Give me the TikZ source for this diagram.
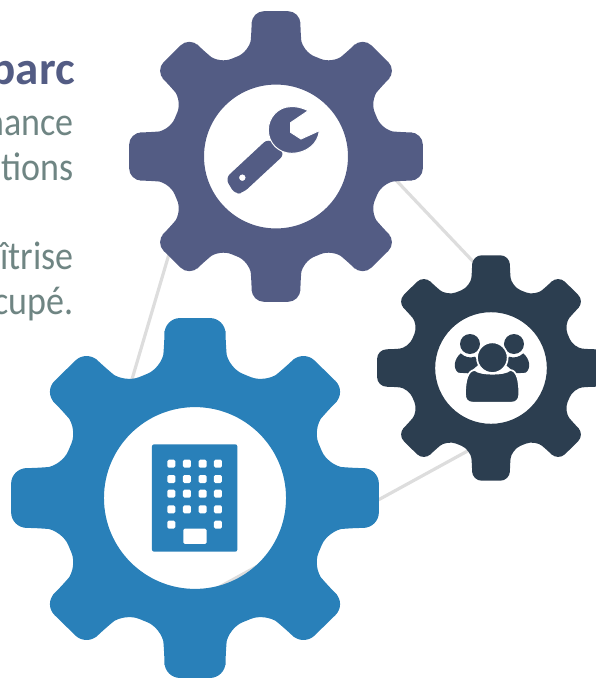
\documentclass[tikz,border=0pt]{standalone}
\usepackage{fontspec}
\setmainfont{Carlito}
\definecolor{gpurple}{HTML}{535C84}
\definecolor{gdark}{HTML}{2C3E50}
\definecolor{gblue}{HTML}{2980B9}
\definecolor{gtext}{HTML}{6F8583}
\definecolor{glink}{HTML}{DDDDDD}
% one tooth and the root after it, at angle #1, in units of 1/100 outer radius
\newcommand{\gcore}[1]{%
  -- ({84*cos(#1)+16.6*sin(#1)},{84*sin(#1)-16.6*cos(#1)})
  -- ({100*cos(#1)+16.6*sin(#1)},{100*sin(#1)-16.6*cos(#1)})
  -- ({100*cos(#1)-16.6*sin(#1)},{100*sin(#1)+16.6*cos(#1)})
  -- ({84*cos(#1)-16.6*sin(#1)},{84*sin(#1)+16.6*cos(#1)})
  -- ({74.5*cos(#1+14)},{74.5*sin(#1+14)})
}
\newcommand{\gtooth}[1]{\gcore{#1} -- ({74.5*cos(#1+31)},{74.5*sin(#1+31)})}
% #1 x, #2 y, #3 outer radius, #4 hole radius, #5 colour, #6 vertical squash
\newcommand{\gearshape}[6]{%
  \begin{scope}[shift={(#1,#2)},x=#3*0.01pt,y=#3*-0.01pt*#6]
  \fill[#5,even odd rule]
    [rounded corners=#3*0.085pt] ({74.5*cos(14)},{-74.5*sin(14)})
    \gtooth{0}\gtooth{45}\gtooth{90}\gtooth{135}\gtooth{180}\gtooth{225}\gtooth{270}\gcore{315}
    -- cycle
    [sharp corners] (#4,0) arc[start angle=0,end angle=360,x radius=#4,y radius=#4/#6];
  \end{scope}}
\newcommand{\lighttext}[1]{\scalebox{0.9}[1]{#1}}
\begin{document}
\begin{tikzpicture}[x=1pt,y=-1pt,
  linkline/.style={glink,line width=3.2pt},
  lab/.style={anchor=base east,inner sep=0pt,font=\fontsize{40}{44}\selectfont,text=gtext}]
\useasboundingbox (0,0) rectangle (596,678);
\begin{scope}
\clip (0,0) rectangle (596,678);
\coordinate (a) at (185,200);
\coordinate (b) at (117,430);
\coordinate (c) at (370,152.7);
\coordinate (d) at (495,284.7);
\coordinate (e) at (200,597.6);
\coordinate (f) at (490,438.7);
\draw[linkline] (a) -- (b);
\draw[linkline] (c) -- (d);
\draw[linkline] (e) -- (f);
\node[lab,font=\fontsize{47}{50}\selectfont\bfseries,text=gpurple] (t1) at (75,84) {parc};
\node[lab] (t2) at (74,135) {\lighttext{nance}};
\node[lab] (t3) at (74,180) {\lighttext{tions}};
\node[lab] (t4) at (74,269) {\lighttext{îtrise}};
\node[lab] (t5) at (74,314) {\lighttext{cupé.}};
\gearshape{276}{156.5}{147}{49}{gpurple}{0.99}
\gearshape{491}{368}{114}{49}{gdark}{0.99}
\gearshape{195}{498}{184}{49.5}{gblue}{0.98}
% wrench
\begin{scope}[shift={(200,80)},x=0.3333pt,y=-0.3333pt]
\fill[gpurple,even odd rule] [rounded corners=6pt] (205,175) -- (76,295) -- (105,343) -- (130,338) -- (255,222) -- cycle
  [sharp corners] (137,293) arc[start angle=0,end angle=360,radius=10];
\fill[gpurple,draw=white,line width=1pt] (325,92) .. controls (305,82) and (287,79) .. (272,80)
  .. controls (235,80) and (205,112) .. (205,150)
  .. controls (205,190) and (237,220) .. (275,220)
  .. controls (320,220) and (355,190) .. (358,152)
  -- (303,177) -- (272,157) -- (272,128) -- cycle;
\end{scope}
% people
\begin{scope}[shift={(430,320)},x=0.3333pt,y=-0.3333pt]
\fill[gdark] (120,72) circle[radius=30];
\fill[gdark] (252,72) circle[radius=30];
\fill[gdark] (92,100) .. controls (72,118) and (68,145) .. (85,158)
  -- (115,160) -- (150,130) -- (135,110) .. controls (120,115) and (105,112) .. (92,100) -- cycle;
\fill[gdark] (280,100) .. controls (300,118) and (304,145) .. (287,158)
  -- (257,160) -- (222,130) -- (237,110) .. controls (252,115) and (267,112) .. (280,100) -- cycle;
\fill[gdark,draw=white,line width=1.7pt] (128,248) .. controls (112,248) and (105,238) .. (105,222)
  .. controls (105,185) and (112,150) .. (135,150)
  .. controls (150,165) and (225,165) .. (240,150)
  .. controls (262,150) and (268,185) .. (268,222)
  .. controls (268,238) and (260,248) .. (245,248) -- cycle;
\fill[gdark,draw=white,line width=1.7pt] (187,113) circle[radius=46];
\end{scope}
% building
\begin{scope}[shift={(130,430)},x=0.3333pt,y=-0.3333pt]
\fill[gblue,rounded corners=2pt] (66,43) rectangle (322,365);
\foreach \wx in {124,171,218,264}{\foreach \wy in {101,147,191,238}{
  \fill[white,rounded corners=1.5pt] (\wx-12,\wy-12) rectangle (\wx+12,\wy+12);}}
\foreach \wx in {124,264}{\fill[white,rounded corners=1.5pt] (\wx-12,272) rectangle (\wx+12,296);}
\fill[white,rounded corners=1.5pt] (160,296) rectangle (230,342);
\end{scope}
\end{scope}
\end{tikzpicture}
\end{document}
